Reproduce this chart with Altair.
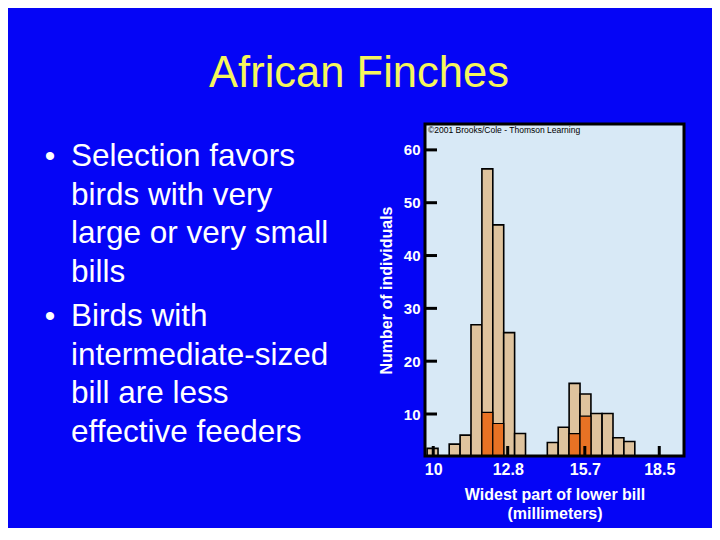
import altair as alt
import pandas as pd

# ---------------- data ----------------
title_text = "African Finches"
bullet_1 = ["Selection favors", "birds with very", "large or very small", "bills"]
bullet_2 = ["Birds with", "intermediate-sized", "bill are less", "effective feeders"]
copyright_text = "\u00a92001 Brooks/Cole - Thomson Learning"

# histogram bins (mm) and counts
bin_lo = [9.77, 10.60, 11.01, 11.42, 11.83, 12.24, 12.65, 13.06,
          14.29, 14.70, 15.11, 15.52, 15.93, 16.35, 16.76, 17.17]
bin_hi = [10.18, 11.01, 11.42, 11.83, 12.24, 12.65, 13.06, 13.47,
          14.70, 15.11, 15.52, 15.93, 16.35, 16.76, 17.17, 17.58]
all_birds = [3.5, 4.3, 6.0, 26.9, 56.4, 45.8, 25.4, 6.3,
             4.6, 7.5, 15.8, 13.8, 10.1, 10.1, 5.5, 4.8]

surv_lo = [11.83, 12.24, 15.11, 15.52]
surv_hi = [12.24, 12.65, 15.52, 15.93]
survivors = [10.3, 8.2, 6.3, 9.6]

y_ticks = [10, 20, 30, 40, 50, 60]
x_ticks = [10, 12.8, 15.7, 18.5]
x_title = ["Widest part of lower bill", "(millimeters)"]
y_title = "Number of individuals"

# ---------------- styling ----------------
BG = "#0505f6"
PLOT_BG = "#d8e9f6"
TAN = "#dfc39d"
ORANGE = "#e87224"
YELLOW = "#f6f65c"
FONT = "Liberation Sans"
W, H = 259, 332

df_all = pd.DataFrame({"lo": bin_lo, "hi": bin_hi, "n": all_birds})
df_surv = pd.DataFrame({"lo": surv_lo, "hi": surv_hi, "n": survivors})
df_yt = pd.DataFrame({"v": y_ticks})
df_xt = pd.DataFrame({"v": x_ticks})

xscale = alt.Scale(domain=[9.69, 19.43], nice=False, zero=False)
yscale = alt.Scale(domain=[2.05, 64.9], nice=False, zero=False)

x_axis = alt.Axis(values=x_ticks, labelExpr="'' + datum.value", ticks=False,
                  domain=False, grid=False,
                  labelColor="white", labelFont=FONT, labelFontSize=16,
                  labelFontWeight="bold", labelPadding=5, labelFlush=False,
                  title=x_title, titleColor="white", titleFont=FONT,
                  titleFontSize=16, titleFontWeight="bold", titleLineHeight=19,
                  titlePadding=9)
y_axis = alt.Axis(values=y_ticks, ticks=False, domain=False, grid=False,
                  labelColor="white", labelFont=FONT, labelFontSize=15,
                  labelFontWeight="bold", labelPadding=5,
                  title=y_title, titleColor="white", titleFont=FONT,
                  titleFontSize=16, titleFontWeight="bold", titlePadding=9)

bars_all = alt.Chart(df_all).mark_bar(
    fill=TAN, stroke="black", strokeWidth=1.6, clip=True
).encode(
    x=alt.X("lo:Q", scale=xscale, axis=x_axis),
    x2="hi:Q",
    y=alt.Y("n:Q", scale=yscale, axis=y_axis),
    y2=alt.datum(0),
)

bars_surv = alt.Chart(df_surv).mark_bar(
    fill=ORANGE, stroke="black", strokeWidth=1.2, clip=True
).encode(
    x=alt.X("lo:Q", scale=xscale),
    x2="hi:Q",
    y=alt.Y("n:Q", scale=yscale),
    y2=alt.datum(0),
)

ytick_marks = alt.Chart(df_yt).mark_rule(color="black", strokeWidth=3).encode(
    y=alt.Y("v:Q", scale=yscale), x=alt.value(0), x2=alt.value(12)
)
xtick_marks = alt.Chart(df_xt).mark_rule(color="black", strokeWidth=3).encode(
    x=alt.X("v:Q", scale=xscale), y=alt.value(H), y2=alt.value(H - 10)
)

frame = alt.Chart(pd.DataFrame({"f": [1]})).mark_rect(
    fill="transparent", stroke="black", strokeWidth=3
).encode(x=alt.value(0), x2=alt.value(W), y=alt.value(0), y2=alt.value(H))

copyright_mark = alt.Chart(pd.DataFrame({"t": [copyright_text]})).mark_text(
    align="left", baseline="alphabetic", font=FONT, fontSize=8.5, color="black"
).encode(text="t:N", x=alt.value(3), y=alt.value(9))

title_mark = alt.Chart(pd.DataFrame({"t": [title_text]})).mark_text(
    align="center", baseline="alphabetic", font=FONT, fontSize=43.5, color=YELLOW
).encode(text="t:N", x=alt.value(-66), y=alt.value(-37))

b1 = alt.Chart(pd.DataFrame({"t": ["\n".join(bullet_1)]})).mark_text(
    align="left", baseline="alphabetic", font=FONT, fontSize=31.5, color="white",
    lineBreak="\n", lineHeight=38.5
).encode(text="t:N", x=alt.value(-354), y=alt.value(42))
b2 = alt.Chart(pd.DataFrame({"t": ["\n".join(bullet_2)]})).mark_text(
    align="left", baseline="alphabetic", font=FONT, fontSize=31.5, color="white",
    lineBreak="\n", lineHeight=38.5
).encode(text="t:N", x=alt.value(-354), y=alt.value(202))
dot1 = alt.Chart(pd.DataFrame({"t": ["\u2022"]})).mark_text(
    align="center", baseline="alphabetic", font=FONT, fontSize=30, color="white"
).encode(text="t:N", x=alt.value(-375), y=alt.value(42))
dot2 = alt.Chart(pd.DataFrame({"t": ["\u2022"]})).mark_text(
    align="center", baseline="alphabetic", font=FONT, fontSize=30, color="white"
).encode(text="t:N", x=alt.value(-375), y=alt.value(202))

chart = alt.layer(
    bars_all, bars_surv, ytick_marks, xtick_marks, frame,
    copyright_mark, title_mark, b1, b2, dot1, dot2
).properties(
    width=W, height=H,
    autosize=alt.AutoSizeParams(type="none"),
    padding={"left": 417, "top": 116, "right": 28, "bottom": 72},
    background=BG,
).configure_view(
    fill=PLOT_BG, stroke=None
)

chart.save("out.html", embed_options={"renderer": "svg", "actions": False})
